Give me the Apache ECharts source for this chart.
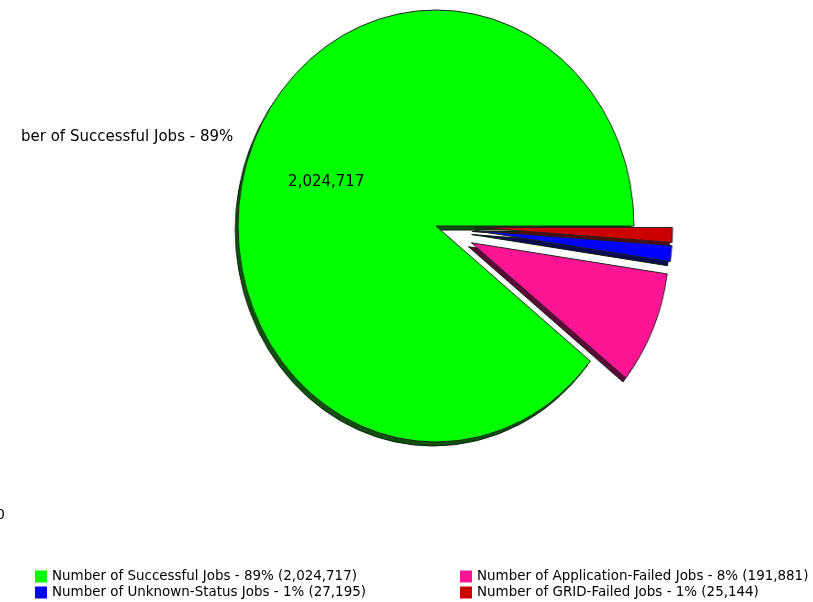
<!DOCTYPE html>
<html><head><meta charset="utf-8">
<script src="https://cdn.jsdelivr.net/npm/echarts@6/dist/echarts.min.js"></script>
<style>html,body{margin:0;padding:0;background:#fff}
#wrap{position:relative;width:813px;height:602px;overflow:hidden}
#pie,#txt{position:absolute;left:0;top:0;width:813px;height:602px}
#pie{transform:scaleX(0.9167);transform-origin:436px 0}
</style>
</head><body><div id="wrap"><div id="pie"></div><div id="txt"></div></div>
<script>
const categories = ['Number of Successful Jobs','Number of Application-Failed Jobs','Number of Unknown-Status Jobs','Number of GRID-Failed Jobs'];
const values = [2024717, 191881, 27195, 25144];
const colors = ['#00ff00','#ff1493','#0000ff','#cc0000'];
const shadows = ['#0c520c','#5c0838','#0a0a55','#550a0a'];
const exploded = [false, true, true, true];

const total = values.reduce((a,b)=>a+b,0);
const pct = v => Math.round(v/total*100);
const fmt = v => v.toLocaleString('en-US');
const font = 'DejaVu Sans';
const CENTER = [436,226], R = 216, OFF = 42, SH = [-3, 4];

const pieBase = {type:'pie', radius:R, startAngle:0, clockwise:false,
  selectedMode:'multiple', selectedOffset:OFF, silent:true, label:{show:false}, labelLine:{show:false}};

const pieChart = echarts.init(document.getElementById('pie'), null, {renderer:'canvas'});
pieChart.setOption({
  animation:false,
  series:[
    Object.assign({}, pieBase, {center:[CENTER[0]+SH[0], CENTER[1]+SH[1]], z:1,
      data:categories.map((n,i)=>({name:n, value:values[i], selected:exploded[i],
        itemStyle:{color:shadows[i], borderColor:'#0a1a0a', borderWidth:1}}))}),
    Object.assign({}, pieBase, {center:CENTER, z:2,
      data:categories.map((n,i)=>({name:n, value:values[i], selected:exploded[i],
        itemStyle:{color:colors[i], borderColor:'#222', borderWidth:1}}))})
  ]
});

const legendFmt = n=>{const i=categories.indexOf(n);return n+' - '+pct(values[i])+'% ('+fmt(values[i])+')';};
const legendBase = {orient:'vertical', bottom:-2, itemGap:3, itemWidth:12, itemHeight:12, icon:'rect', selectedMode:false,
  itemStyle:{borderWidth:0}, textStyle:{fontFamily:font,fontSize:13.45,color:'#000'}, formatter:legendFmt};
const legendItem = i => ({name:categories[i], itemStyle:{color:colors[i], borderWidth:0}});
const ghost = () => categories.map((n,i)=>({name:n,value:values[i],selected:exploded[i],itemStyle:{color:'rgba(0,0,0,0)',borderWidth:0}}));

const txt = echarts.init(document.getElementById('txt'), null, {renderer:'canvas'});
txt.setOption({
  animation:false,
  legend:[
    Object.assign({left:30, data:[legendItem(0), legendItem(2)]}, legendBase),
    Object.assign({left:455, data:[legendItem(1), legendItem(3)]}, legendBase)
  ],
  graphic:[
    {type:'text', left:-4, top:508, style:{text:'0', font:'14px "DejaVu Sans"', fill:'#000'}},
    {type:'rect', z:100, left:0, top:118, shape:{width:22, height:36}, style:{fill:'#fff'}}
  ],
  series:[
    {type:'pie', center:CENTER, radius:R, startAngle:0, clockwise:false,
     selectedMode:'multiple', selectedOffset:OFF, silent:true,
     labelLine:{show:false},
     label:{show:true, position:'inside', fontFamily:font, fontSize:15, color:'#000',
       formatter:p=>p.dataIndex===0?fmt(p.value):''},
     labelLayout:{dx:-5, dy:-7},
     data:ghost()},
    {type:'pie', center:CENTER, radius:R, startAngle:0, clockwise:false,
     selectedMode:'multiple', selectedOffset:OFF, silent:true,
     labelLine:{show:false, length:0, length2:0},
     label:{show:true, position:'outside', overflow:'none', fontFamily:font, fontSize:15, color:'#000',
       formatter:p=>p.dataIndex===0?p.name+' - '+pct(p.value)+'%':''},
     labelLayout:{dx:6, dy:-17},
     data:ghost()}
  ]
});
</script></body></html>
